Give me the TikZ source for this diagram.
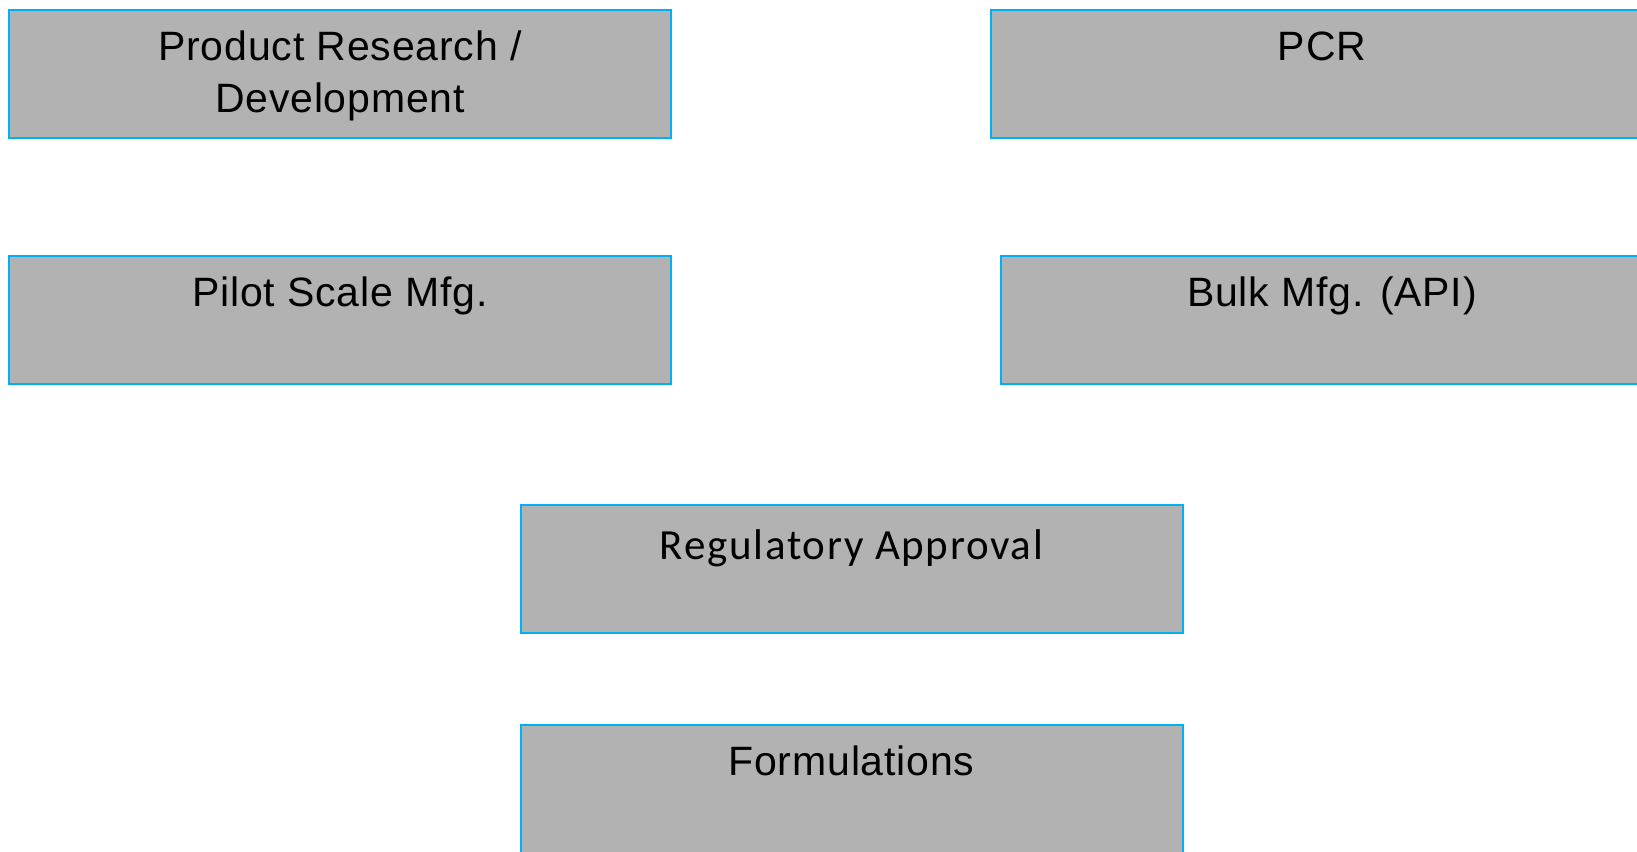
\documentclass[tikz,border=0pt]{standalone}
\usepackage{fontspec}
\setmainfont[LetterSpace=2]{Liberation Sans}
\newfontfamily\calibrifont[LetterSpace=4]{Carlito}
\usetikzlibrary{positioning}
\definecolor{boxgray}{RGB}{178,178,178}
\definecolor{boxblue}{RGB}{0,176,240}

\begin{document}
\begin{tikzpicture}[x=0.5pt, y=-0.5pt, node distance=59pt,
    procbox/.style={rectangle, draw=boxblue, fill=boxgray, line width=1pt,
        minimum width=331pt, inner xsep=0pt, inner ysep=0pt, outer sep=0pt,
        align=center, text height=25pt, text depth=39pt,
        font=\fontsize{20.5}{26}\selectfont},
    twoline/.style={text height=51pt, text depth=13pt},
    regbox/.style={procbox, text height=27pt, text depth=37pt,
        font=\calibrifont\fontsize{21.5}{26}\selectfont}]
        \path[use as bounding box, clip] (0,0) rectangle (1637,851);

        \node (prd) [procbox, twoline, anchor=north west] at (9,10) {Product Research /\\ Development};
        \node (pilot) [procbox, below=of prd] {Pilot Scale Mfg.};

        \node (pcr) [procbox, anchor=north west] at (991,10) {PCR};
        \node (bulk) [procbox, anchor=north west] at (1001,256) {Bulk Mfg. (API)};

        \node (reg) [regbox, anchor=north] at (851.5,505) {Regulatory Approval};
        \node (form) [procbox, below=46pt of reg] {Formulations};
    \end{tikzpicture}
\end{document}
